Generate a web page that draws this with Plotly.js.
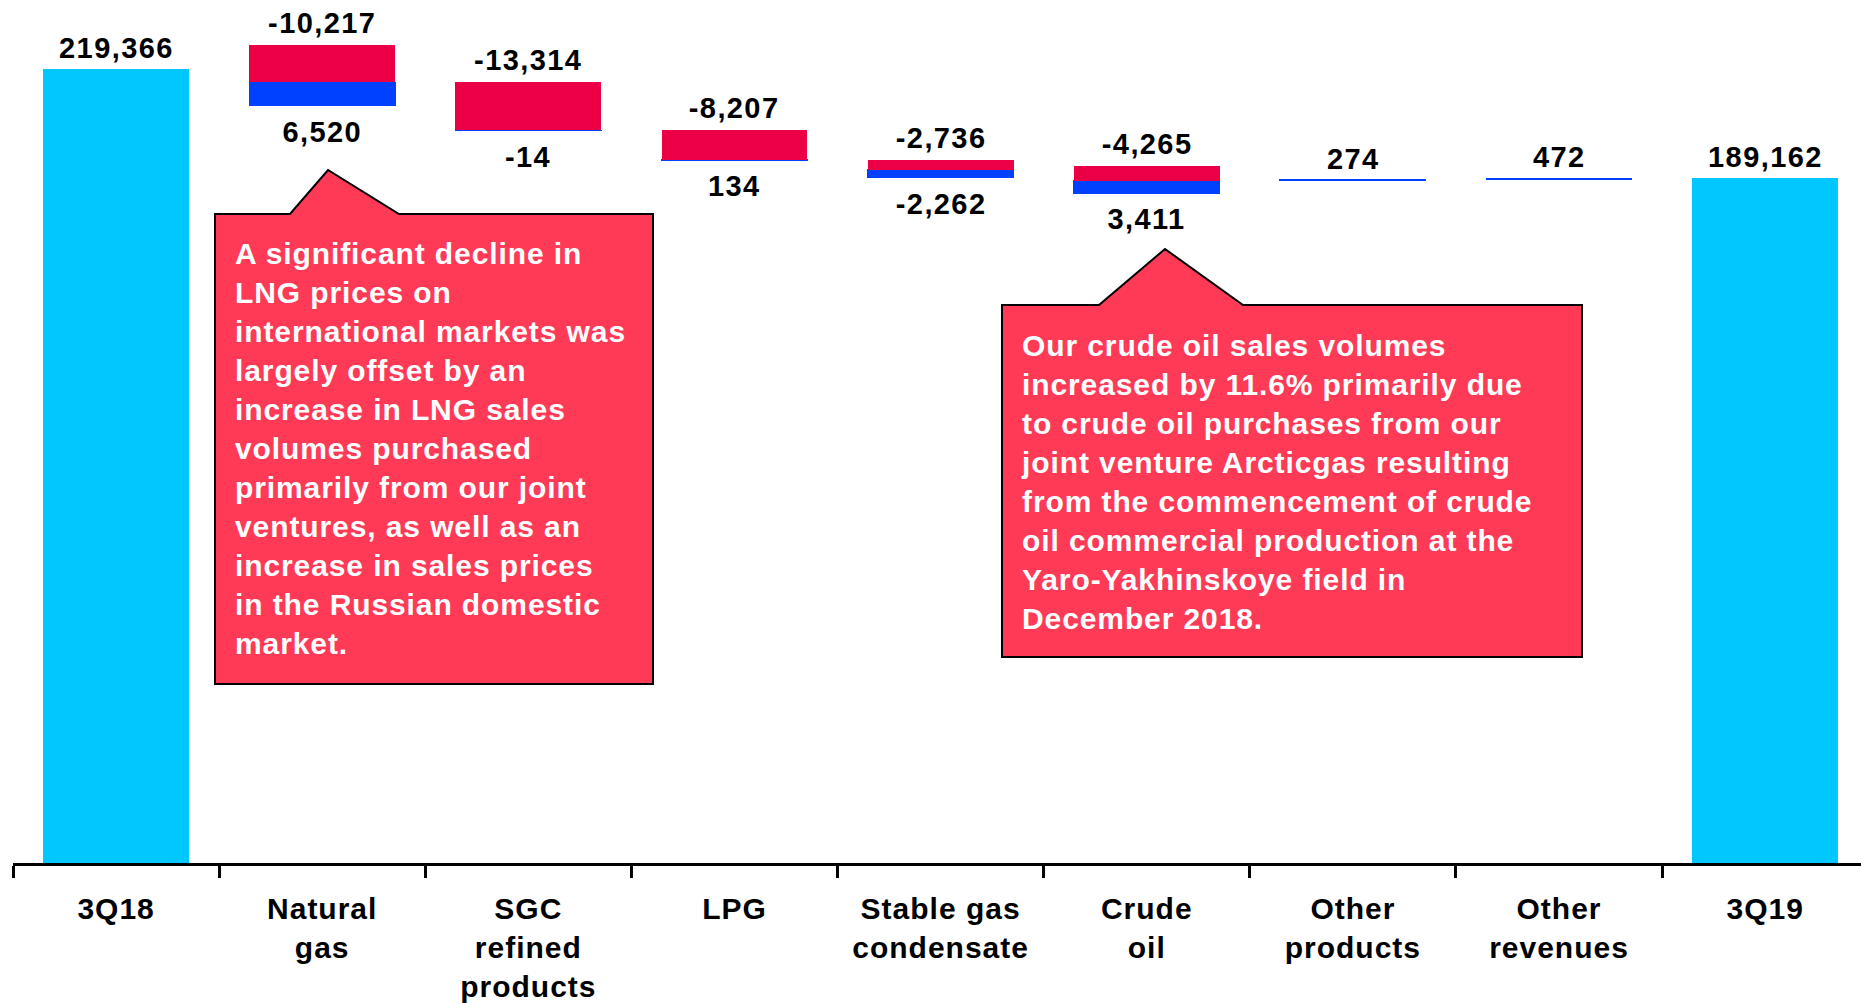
<!DOCTYPE html>
<html>
<head>
<meta charset="utf-8">
<script src="https://cdn.plot.ly/plotly-3.0.1.min.js"></script>
<style>
  html, body { margin: 0; padding: 0; background: #ffffff; }
  #chart { width: 1861px; height: 1003px; }
  #chart svg text { letter-spacing: 1.4px; }
  #chart svg .xtick text { letter-spacing: 1px; }
</style>
</head>
<body>
<div id="chart"></div>
<script>
// ---------------- DATA ----------------
const categories = ['3Q18', 'Natural<br>gas', 'SGC<br>refined<br>products', 'LPG',
  'Stable gas<br>condensate', 'Crude<br>oil', 'Other<br>products', 'Other<br>revenues', '3Q19'];
const totals = [219366, null, null, null, null, null, null, null, 189162];
const priceEffect = [null, -10217, -13314, -8207, -2736, -4265, null, null, null];
const volumeEffect = [null, 6520, -14, 134, -2262, 3411, 274, 472, null];

const calloutLeftText = [
  'A significant decline in', 'LNG prices on', 'international markets was',
  'largely offset by an', 'increase in LNG sales', 'volumes purchased',
  'primarily from our joint', 'ventures, as well as an', 'increase in sales prices',
  'in the Russian domestic', 'market.'
];
const calloutRightText = [
  'Our crude oil sales volumes', 'increased by 11.6% primarily due',
  'to crude oil purchases from our', 'joint venture Arcticgas resulting',
  'from the commencement of crude', 'oil commercial production at the',
  'Yaro-Yakhinskoye field in', 'December 2018.'
];

// ---------------- STYLE ----------------
const COL_TOTAL = 'rgb(0,200,255)';
const COL_PRICE = 'rgb(235,0,70)';
const COL_VOLUME = 'rgb(0,64,255)';
const COL_CALLOUT = 'rgb(255,58,87)';
const FONT = 'Liberation Sans, Arial, sans-serif';

const W = 1861, H = 1003;
const M = { l: 13, r: 0, t: 0, b: 140 };
const plotW = W - M.l - M.r, plotH = H - M.t - M.b;
const px = x => (x - M.l) / plotW;
const py = y => (M.t + plotH - y) / plotH;

// ---------------- DERIVED (waterfall stacking) ----------------
const baseVals = [], volVals = [], priceVals = [];
const fmt = v => (v < 0 ? '-' : '') + Math.abs(v).toLocaleString('en-US');
const annotations = [];
let running = totals[0];
for (let i = 0; i < categories.length; i++) {
  const c = categories[i];
  if (totals[i] !== null) {
    baseVals.push(null); volVals.push(null); priceVals.push(null);
    annotations.push({ x: c, y: totals[i], text: fmt(totals[i]), yanchor: 'bottom', yshift: 3 });
    running = totals[i];
    continue;
  }
  const p = priceEffect[i] || 0, v = volumeEffect[i] || 0;
  const base = running + Math.min(p, 0) + Math.min(v, 0);
  baseVals.push(base);
  volVals.push(v !== 0 ? Math.abs(v) : null);
  priceVals.push(p !== 0 ? Math.abs(p) : null);
  const top = base + Math.abs(p) + Math.abs(v);
  if (priceEffect[i] !== null) {
    annotations.push({ x: c, y: top, text: fmt(p), yanchor: 'bottom', yshift: 4 });
    annotations.push({ x: c, y: base, text: fmt(v), yanchor: 'top', yshift: -8 });
  } else {
    annotations.push({ x: c, y: top, text: fmt(v), yanchor: 'bottom', yshift: 3 });
  }
  running = running + p + v;
}
annotations.forEach(a => {
  a.xref = 'x'; a.yref = 'y'; a.showarrow = false;
  a.font = { family: FONT, size: 29, color: '#000000', weight: 'bold' };
});
const nValueLabels = annotations.length;

// callout text
function calloutText(lines, xPix, topPix) {
  return {
    xref: 'paper', yref: 'paper', x: px(xPix), y: py(topPix),
    xanchor: 'left', yanchor: 'top', align: 'left', showarrow: false,
    text: lines.join('<br>'),
    font: { family: FONT, size: 30, color: '#ffffff', weight: 'bold' }
  };
}
annotations.push(calloutText(calloutLeftText, 233, 235));
annotations.push(calloutText(calloutRightText, 1019, 327));

function polyPath(pts) {
  return 'M ' + pts.map(p => px(p[0]) + ',' + py(p[1])).join(' L ') + ' Z';
}
const shapes = [
  { type: 'path', xref: 'paper', yref: 'paper',
    path: polyPath([[215,214],[290,214],[328,170],[399,214],[653,214],[653,684],[215,684]]),
    fillcolor: COL_CALLOUT, line: { color: '#000000', width: 2 } },
  { type: 'path', xref: 'paper', yref: 'paper',
    path: polyPath([[1002,305],[1099,305],[1165,249],[1243,305],[1582,305],[1582,657],[1002,657]]),
    fillcolor: COL_CALLOUT, line: { color: '#000000', width: 2 } }
];

const traces = [
  { type: 'bar', x: categories, y: baseVals, marker: { color: 'rgba(0,0,0,0)' }, hoverinfo: 'skip', showlegend: false },
  { type: 'bar', x: categories, y: volVals, marker: { color: COL_VOLUME, line: { color: COL_VOLUME, width: 1 } }, hoverinfo: 'skip', showlegend: false },
  { type: 'bar', x: categories, y: priceVals, marker: { color: COL_PRICE, line: { width: 0 } }, hoverinfo: 'skip', showlegend: false },
  { type: 'bar', x: categories, y: totals, marker: { color: COL_TOTAL, line: { width: 0 } }, hoverinfo: 'skip', showlegend: false }
];

const layout = {
  width: W, height: H,
  margin: M,
  paper_bgcolor: '#ffffff', plot_bgcolor: '#ffffff',
  barmode: 'stack', bargap: 0.292,
  showlegend: false,
  font: { family: FONT, color: '#000000' },
  xaxis: {
    type: 'category', range: [-0.5, 8.465], fixedrange: true,
    showline: true, linecolor: '#000000', linewidth: 3,
    ticks: 'outside', tickson: 'boundaries', ticklen: 12, tickwidth: 3, tickcolor: '#000000',
    ticklabelstandoff: 17,
    tickfont: { family: FONT, size: 30, color: '#000000', weight: 'bold' },
    showgrid: false, zeroline: false
  },
  yaxis: { visible: false, range: [0, 238400], fixedrange: true, showgrid: false, zeroline: false },
  annotations: annotations,
  shapes: shapes
};

Plotly.newPlot('chart', traces, layout, { displayModeBar: false, staticPlot: true }).then(() => {
  document.querySelectorAll('#chart g.annotation').forEach(g => {
    const idx = parseInt(g.getAttribute('data-index'), 10);
    if (idx >= nValueLabels) {
      g.querySelectorAll('text').forEach(t => { t.style.letterSpacing = '0.9px'; });
    }
  });
});
</script>
</body>
</html>
